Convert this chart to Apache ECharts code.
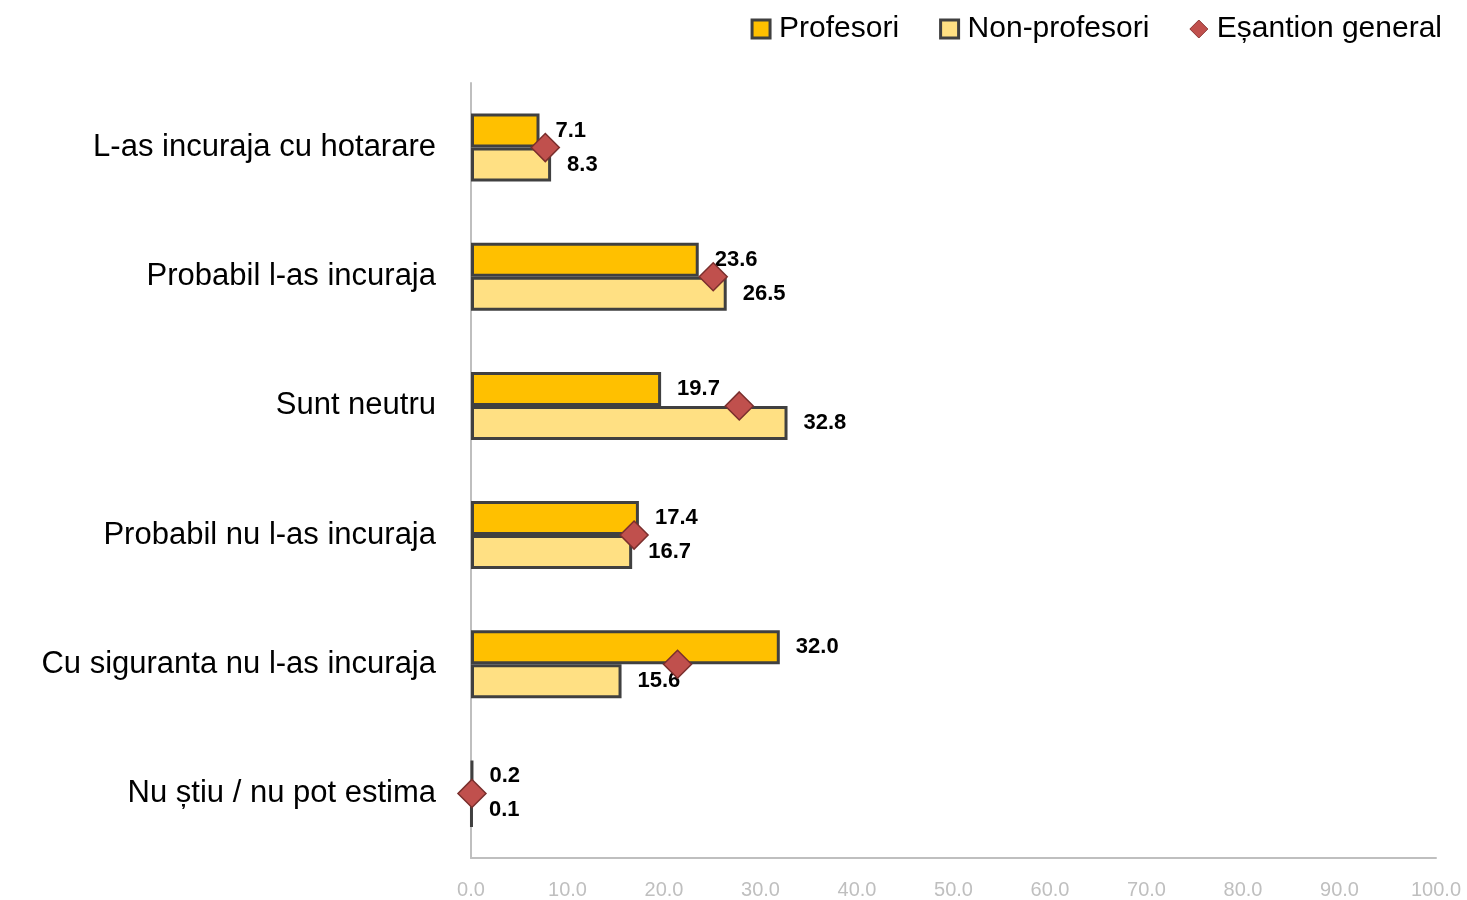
<!DOCTYPE html>
<html>
<head>
<meta charset="utf-8">
<script src="https://cdn.jsdelivr.net/npm/echarts@6/dist/echarts.min.js"></script>
<style>
  html, body { margin: 0; padding: 0; background: #fff; }
  #chart { width: 1467px; height: 900px; }
</style>
</head>
<body>
<div id="chart"></div>
<script>
var categories = [
  'L-as incuraja cu hotarare',
  'Probabil l-as incuraja',
  'Sunt neutru',
  'Probabil nu l-as incuraja',
  'Cu siguranta nu l-as incuraja',
  'Nu știu / nu pot estima'
]
var profesori = [7.1, 23.6, 19.7, 17.4, 32.0, 0.2]
var nonProfesori = [8.3, 26.5, 32.8, 16.7, 15.6, 0.1]
var esantion = [7.7, 25.1, 27.8, 16.9, 21.4, 0.1]
var xTicks = { min: 0, max: 100, interval: 10 }

var dom = echarts.init(document.getElementById('chart'))

var barLabel = {
  show: true,
  position: 'right',
  distance: 16,
  color: '#000',
  fontSize: 22,
  fontWeight: 'bold',
  fontFamily: 'Liberation Sans, Arial, sans-serif',
  formatter: function (p) { return p.value.toFixed(1) }
}

var option = {
  animation: false,
  textStyle: { fontFamily: 'Liberation Sans, Arial, sans-serif' },
  legend: {
    right: 20,
    top: 9,
    itemGap: 40,
    itemWidth: 18,
    itemHeight: 18,
    textStyle: { fontSize: 30, color: '#000', padding: [0, 0, 0, 4] },
    data: [
      { name: 'Profesori', icon: 'rect', itemStyle: { color: '#FFC000', borderColor: '#404040', borderWidth: 3 } },
      { name: 'Non-profesori', icon: 'rect', itemStyle: { color: '#FFE083', borderColor: '#404040', borderWidth: 3 } },
      { name: 'Eșantion general', icon: 'diamond', itemStyle: { color: '#C0504D', borderColor: '#8C3836', borderWidth: 1 } }
    ]
  },
  grid: {
    left: 471,
    right: 31,
    top: 83,
    bottom: 42
  },
  xAxis: {
    type: 'value',
    min: xTicks.min,
    max: xTicks.max,
    interval: xTicks.interval,
    axisLine: { show: true, lineStyle: { color: '#BFBFBF', width: 2 } },
    axisTick: { show: false },
    splitLine: { show: false },
    axisLabel: {
      margin: 22,
      color: '#BFBFBF',
      fontSize: 20,
      formatter: function (v) { return v.toFixed(1) }
    }
  },
  yAxis: {
    type: 'category',
    inverse: true,
    data: categories,
    axisLine: { show: true, lineStyle: { color: '#BFBFBF', width: 2 } },
    axisTick: { show: false },
    axisLabel: {
      margin: 35,
      color: '#000',
      fontSize: 31
    }
  },
  series: [
    {
      name: 'Profesori',
      type: 'bar',
      data: profesori,
      barWidth: 34,
      barGap: '0%',
      itemStyle: { color: '#FFC000', borderColor: '#404040', borderWidth: 3 },
      label: barLabel
    },
    {
      name: 'Non-profesori',
      type: 'bar',
      data: nonProfesori,
      barWidth: 34,
      barGap: '0%',
      itemStyle: { color: '#FFE083', borderColor: '#404040', borderWidth: 3 },
      label: barLabel
    },
    {
      name: 'Eșantion general',
      type: 'scatter',
      symbol: 'diamond',
      symbolSize: [28, 28],
      z: 5,
      data: esantion.map(function (v, i) { return [v, categories[i]] }),
      itemStyle: { color: '#C0504D', borderColor: '#7A2F2D', borderWidth: 1.5, opacity: 1 }
    }
  ]
}

dom.setOption(option, true)
</script>
</body>
</html>
